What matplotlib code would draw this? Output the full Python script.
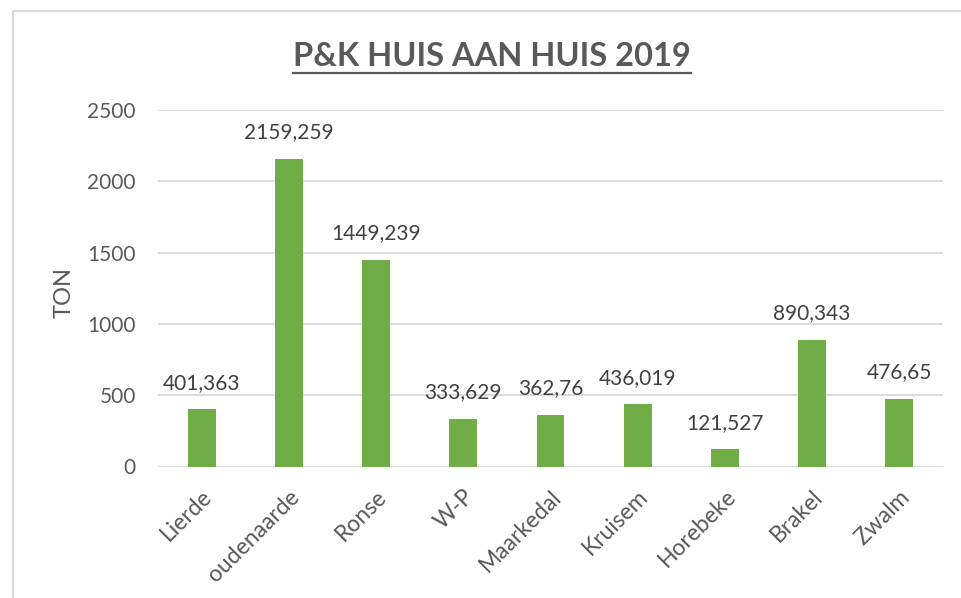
import matplotlib
matplotlib.use("Agg")
import matplotlib.pyplot as plt
from matplotlib.patches import Rectangle
from matplotlib.lines import Line2D

# data
gemeenten = ["Lierde", "oudenaarde", "Ronse", "W-P", "Maarkedal",
             "Kruisem", "Horebeke", "Brakel", "Zwalm"]
ton = [401.363, 2159.259, 1449.239, 333.629, 362.76,
       436.019, 121.527, 890.343, 476.65]
y_ticks = [0, 500, 1000, 1500, 2000, 2500]

GREEN = "#70AD47"
GRID = "#D9D9D9"
TEXT = "#595959"
LABEL = "#404040"
FONT = "Lato"

plt.rcParams["font.family"] = [FONT, "DejaVu Sans"]

W, H = 962, 598
fig = plt.figure(figsize=(W / 100, H / 100), dpi=100)
ax = fig.add_axes([158 / W, 1 - 466.5 / H, (943 - 158) / W, (466.5 - 110) / H])

x = range(len(gemeenten))
bars = ax.bar(x, ton, width=0.32, color=GREEN, zorder=3)

for xi, v in zip(x, ton):
    lbl = f"{v}".replace(".", ",")
    ax.annotate(lbl, (xi, v), xytext=(0, 19), textcoords="offset points",
                ha="center", va="center", fontsize=15, color=LABEL)

ax.set_xlim(-0.5, len(gemeenten) - 0.5)
ax.set_ylim(0, 2500)
ax.set_yticks(y_ticks)
ax.set_yticklabels([str(t) for t in y_ticks])
ax.set_xticks(list(x))
ax.set_xticklabels(gemeenten, rotation=45, ha="right", rotation_mode="anchor")

ax.tick_params(axis="y", length=0, pad=16, labelsize=15, labelcolor=TEXT)
ax.tick_params(axis="x", length=0, pad=14, labelsize=16.5, labelcolor=TEXT)
ax.grid(True, axis="y", color=GRID, linewidth=1.3, zorder=0)
for s in ax.spines.values():
    s.set_visible(False)

ax.set_ylabel("TON", fontsize=17, color=TEXT)
ax.yaxis.set_label_coords(75 / W, 1 - 293 / H, transform=fig.transFigure)

# title with underline
title = fig.text(492 / W, 1 - 56 / H, "P&K HUIS AAN HUIS 2019", ha="center",
                 va="center", fontsize=23.5, fontweight="bold", color=TEXT)
fig.canvas.draw()
bb = title.get_window_extent().transformed(fig.transFigure.inverted())
uy = 1 - 72.5 / H
fig.add_artist(Line2D([bb.x0, bb.x1], [uy, uy], transform=fig.transFigure,
                      color=TEXT, linewidth=1.6))

# chart-area border (cut off at right and bottom like the screenshot)
fig.add_artist(Rectangle((13 / W, -0.05), 1.1, 1.05 - 11 / H,
                         transform=fig.transFigure, fill=False,
                         edgecolor=GRID, linewidth=1.5))

fig.savefig("out.png", dpi=100)
